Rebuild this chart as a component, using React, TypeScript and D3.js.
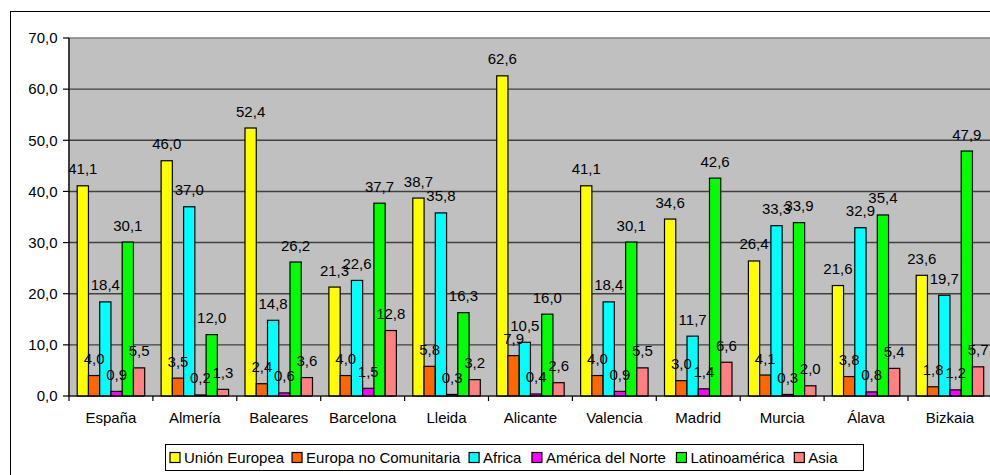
import React from "react";
import * as d3 from "d3";

const categories = ["España", "Almería", "Baleares", "Barcelona", "Lleida", "Alicante", "Valencia", "Madrid", "Murcia", "Álava", "Bizkaia"];
const seriesNames = ["Unión Europea", "Europa no Comunitaria", "Africa", "América del Norte", "Latinoamérica", "Asia"];
const seriesColors = ["#FFFF00", "#FF6600", "#00FFFF", "#FF00FF", "#00FF00", "#FF8080"];
const unionEuropea = [41.1, 46.0, 52.4, 21.3, 38.7, 62.6, 41.1, 34.6, 26.4, 21.6, 23.6];
const europaNoCom = [4.0, 3.5, 2.4, 4.0, 5.8, 7.9, 4.0, 3.0, 4.1, 3.8, 1.8];
const africa = [18.4, 37.0, 14.8, 22.6, 35.8, 10.5, 18.4, 11.7, 33.3, 32.9, 19.7];
const americaNorte = [0.9, 0.2, 0.6, 1.5, 0.3, 0.4, 0.9, 1.4, 0.3, 0.8, 1.2];
const latinoamerica = [30.1, 12.0, 26.2, 37.7, 16.3, 16.0, 30.1, 42.6, 33.9, 35.4, 47.9];
const asia = [5.5, 1.3, 3.6, 12.8, 3.2, 2.6, 5.5, 6.6, 2.0, 5.4, 5.7];
const yTicks = [0, 10, 20, 30, 40, 50, 60, 70];

const seriesValues = [unionEuropea, europaNoCom, africa, americaNorte, latinoamerica, asia];

const W = 990;
const H = 475;
const plotLeft = 69;
const plotTop = 38;
const plotBottom = 396;
const catWidth = 83.9;
const plotRight = plotLeft + catWidth * categories.length;
const font = "'Liberation Sans', Arial, sans-serif";
const fmt = (v: number) => v.toFixed(1).replace(".", ",");

const textW = (s: string) => {
  let w = 0;
  for (const ch of s) {
    if (ch === " ") w += 0.278;
    else if ("iílj".includes(ch)) w += 0.222;
    else if ("rtf".includes(ch)) w += 0.333;
    else if (ch === "m") w += 0.833;
    else if ("UNCÁA".includes(ch)) w += 0.722;
    else if (ch === "E") w += 0.667;
    else w += 0.556;
  }
  return w * 15;
};

export default function App() {
  const x = d3.scaleBand<string>().domain(categories).range([plotLeft, plotRight]).padding(0);
  const inner = d3
    .scaleBand<string>()
    .domain(seriesNames)
    .range([0, catWidth])
    .paddingInner(0)
    .paddingOuter(0.73);
  const y = d3.scaleLinear().domain([0, 70]).range([plotBottom, plotTop]);

  const legendX = 165;
  const legendY = 444;
  const legendW = 698;
  const legendH = 26;
  let cursor = legendX + 5;
  const legendItems = seriesNames.map((n, i) => {
    const item = { name: n, color: seriesColors[i], x: cursor };
    cursor += 15 + textW(n) + 7;
    return item;
  });

  const bars = categories.flatMap((c, ci) =>
    seriesValues.map((vals, si) => {
      const bx = (x(c) as number) + (inner(seriesNames[si]) as number);
      const bw = inner.bandwidth();
      return { key: `${ci}-${si}`, bx, bw, v: vals[ci], color: seriesColors[si] };
    })
  );

  return (
    <svg
      width={W}
      height={H}
      style={{ position: "absolute", left: 0, top: 0, background: "#fff" }}
      fontFamily={font}
    >
      <rect x={0} y={0} width={W} height={H} fill="#fff" />
      <rect x={10.5} y={11.5} width={W + 20} height={H + 20} fill="#fff" stroke="#000" strokeWidth={1} />
      <rect x={plotLeft} y={plotTop} width={plotRight - plotLeft} height={plotBottom - plotTop} fill="#C0C0C0" stroke="#808080" strokeWidth={1.5} />
      {yTicks.filter((t) => t > 0 && t < 70).map((t) => (
        <line key={t} x1={plotLeft} x2={plotRight} y1={y(t)} y2={y(t)} stroke="#404040" strokeWidth={1.4} />
      ))}
      {bars.map((b) => (
        <rect key={b.key} x={b.bx} y={y(b.v)} width={b.bw} height={plotBottom - y(b.v)} fill={b.color} stroke="#000" strokeWidth={1.2} />
      ))}
      <line x1={plotLeft} x2={plotLeft} y1={plotTop} y2={plotBottom} stroke="#000" strokeWidth={1.2} />
      <line x1={plotLeft} x2={plotRight} y1={plotBottom} y2={plotBottom} stroke="#000" strokeWidth={1.2} />
      {bars.map((b) => (
        <text key={b.key} x={b.bx + b.bw / 2} y={y(b.v) - 11.5} textAnchor="middle" fontSize={15} fill="#000">
          {fmt(b.v)}
        </text>
      ))}
      {categories.map((c) => (
        <text key={c} x={(x(c) as number) + catWidth / 2} y={423} textAnchor="middle" fontSize={15} fill="#000">
          {c}
        </text>
      ))}
      {yTicks.map((t) => (
        <g key={t}>
          <line x1={plotLeft - 6} x2={plotLeft} y1={y(t)} y2={y(t)} stroke="#000" strokeWidth={1.2} />
          <text x={57.5} y={y(t) + 5.3} textAnchor="end" fontSize={15} fill="#000">
            {fmt(t)}
          </text>
        </g>
      ))}
      {d3.range(categories.length + 1).map((i) => (
        <line key={i} x1={plotLeft + i * catWidth} x2={plotLeft + i * catWidth} y1={plotBottom} y2={plotBottom + 5} stroke="#000" strokeWidth={1.2} />
      ))}
      <rect x={legendX + 0.5} y={legendY + 0.5} width={legendW} height={legendH} fill="#fff" stroke="#000" strokeWidth={1} />
      {legendItems.map((it) => (
        <g key={it.name}>
          <rect x={it.x} y={legendY + 8.5} width={10} height={10} fill={it.color} stroke="#000" strokeWidth={1.2} />
          <text x={it.x + 14} y={legendY + 19} fontSize={15} fill="#000">
            {it.name}
          </text>
        </g>
      ))}
    </svg>
  );
}
